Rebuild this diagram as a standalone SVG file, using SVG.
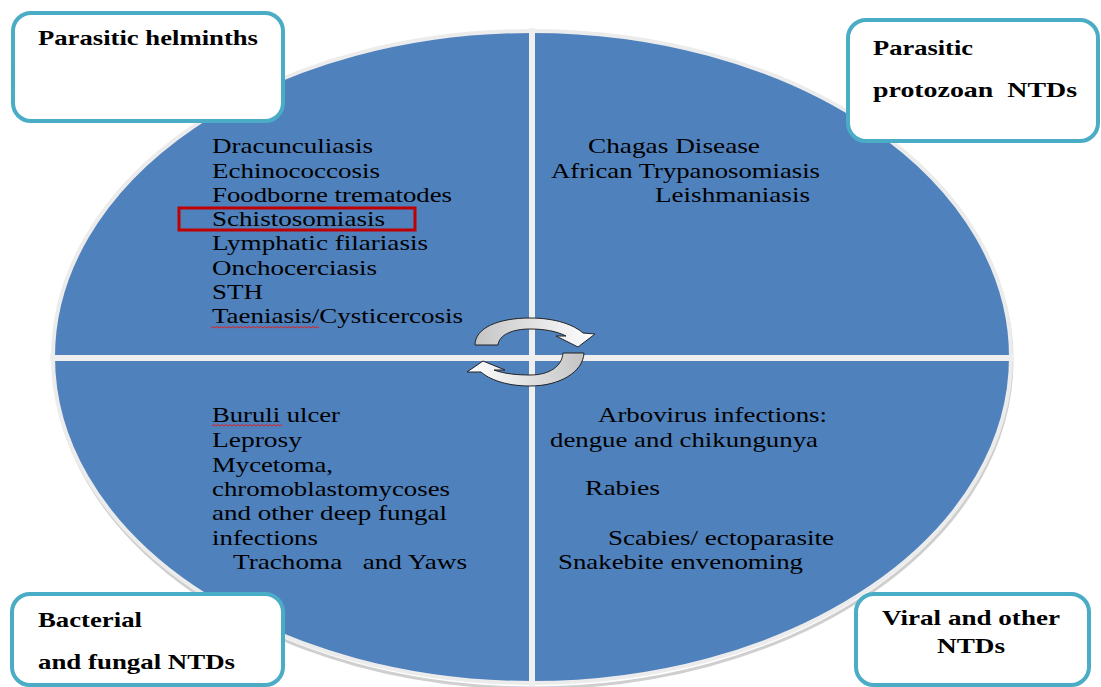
<svg xmlns="http://www.w3.org/2000/svg" width="1101" height="687" viewBox="0 0 1101 687">
<style>
.box{fill:#fff;stroke:#4bacc6;stroke-width:4}
.hd{font-family:"Liberation Serif","Times New Roman",serif;font-weight:bold;font-size:21px;fill:#000}
.tx{font-family:"Liberation Serif","Times New Roman",serif;font-size:21px;fill:#000}
.sq{fill:none;stroke:#e02020;stroke-width:1}
.arr{stroke:#222;stroke-width:1}
</style>
<defs>
<linearGradient id="g1" x1="0" y1="0" x2="1" y2="0">
<stop offset="0" stop-color="#c4c4c4"/><stop offset="0.55" stop-color="#e6e6e6"/><stop offset="1" stop-color="#ffffff"/>
</linearGradient>
<linearGradient id="g2" x1="1" y1="0" x2="0" y2="0">
<stop offset="0" stop-color="#c4c4c4"/><stop offset="0.55" stop-color="#e6e6e6"/><stop offset="1" stop-color="#ffffff"/>
</linearGradient>
</defs>
<rect width="1101" height="687" fill="#fff"/>
<g id="circle">
<ellipse cx="532" cy="358" rx="479" ry="328" fill="none" stroke="#cfcfcf" stroke-width="3" transform="translate(1,2)"/>
<ellipse cx="532" cy="357" rx="479" ry="326" fill="#4f81bd" stroke="#ececec" stroke-width="4"/>
<line x1="532" y1="28" x2="532" y2="686" stroke="#efefef" stroke-width="6"/>
<line x1="50" y1="358" x2="1014" y2="358" stroke="#efefef" stroke-width="6"/>
</g>
<g id="q1">
<text class="tx" x="212" y="153" textLength="161" lengthAdjust="spacingAndGlyphs">Dracunculiasis</text>
<text class="tx" x="212" y="177.5" textLength="168" lengthAdjust="spacingAndGlyphs">Echinococcosis</text>
<text class="tx" x="212" y="202" textLength="240" lengthAdjust="spacingAndGlyphs">Foodborne trematodes</text>
<text class="tx" x="212" y="226" textLength="173" lengthAdjust="spacingAndGlyphs">Schistosomiasis</text>
<rect x="179" y="208" width="236" height="22" fill="none" stroke="#c00000" stroke-width="3"/>
<text class="tx" x="212" y="250" textLength="216" lengthAdjust="spacingAndGlyphs">Lymphatic filariasis</text>
<text class="tx" x="212" y="275" textLength="165" lengthAdjust="spacingAndGlyphs">Onchocerciasis</text>
<text class="tx" x="212" y="299" textLength="51" lengthAdjust="spacingAndGlyphs">STH</text>
<text class="tx" x="212" y="323" textLength="251" lengthAdjust="spacingAndGlyphs">Taeniasis/Cysticercosis</text>
<path class="sq" d="M211 328 l2 -1.5 l2 1.5 l2 -1.5 l2 1.5 l2 -1.5 l2 1.5 l2 -1.5 l2 1.5 l2 -1.5 l2 1.5 l2 -1.5 l2 1.5 l2 -1.5 l2 1.5 l2 -1.5 l2 1.5 l2 -1.5 l2 1.5 l2 -1.5 l2 1.5 l2 -1.5 l2 1.5 l2 -1.5 l2 1.5 l2 -1.5 l2 1.5 l2 -1.5 l2 1.5 l2 -1.5 l2 1.5 l2 -1.5 l2 1.5 l2 -1.5 l2 1.5 l2 -1.5 l2 1.5 l2 -1.5 l2 1.5 l2 -1.5 l2 1.5 l2 -1.5 l2 1.5 l2 -1.5 l2 1.5 l2 -1.5 l2 1.5 l2 -1.5 l2 1.5 l2 -1.5 l2 1.5 l2 -1.5 l2 1.5 l2 -1.5 l2 1.5"/>
</g>
<g id="q2">
<text class="tx" x="588" y="153" textLength="172" lengthAdjust="spacingAndGlyphs">Chagas Disease</text>
<text class="tx" x="551" y="177.5" textLength="269" lengthAdjust="spacingAndGlyphs">African Trypanosomiasis</text>
<text class="tx" x="655" y="202" textLength="155" lengthAdjust="spacingAndGlyphs">Leishmaniasis</text>
</g>
<g id="q3">
<text class="tx" x="212" y="422" textLength="128" lengthAdjust="spacingAndGlyphs">Buruli ulcer</text>
<path class="sq" d="M212 426 l2 -1.5 l2 1.5 l2 -1.5 l2 1.5 l2 -1.5 l2 1.5 l2 -1.5 l2 1.5 l2 -1.5 l2 1.5 l2 -1.5 l2 1.5 l2 -1.5 l2 1.5 l2 -1.5 l2 1.5 l2 -1.5 l2 1.5 l2 -1.5 l2 1.5 l2 -1.5 l2 1.5 l2 -1.5 l2 1.5 l2 -1.5 l2 1.5 l2 -1.5 l2 1.5 l2 -1.5 l2 1.5 l2 -1.5 l2 1.5 l2 -1.5 l2 1.5 l2 -1.5"/>
<text class="tx" x="212" y="447" textLength="90" lengthAdjust="spacingAndGlyphs">Leprosy</text>
<text class="tx" x="212" y="472" textLength="121" lengthAdjust="spacingAndGlyphs">Mycetoma,</text>
<text class="tx" x="212" y="496" textLength="238" lengthAdjust="spacingAndGlyphs">chromoblastomycoses</text>
<text class="tx" x="212" y="520" textLength="235" lengthAdjust="spacingAndGlyphs">and other deep fungal</text>
<text class="tx" x="212" y="545" textLength="106" lengthAdjust="spacingAndGlyphs">infections</text>
<text class="tx" x="233" y="569" textLength="234" lengthAdjust="spacingAndGlyphs" xml:space="preserve">Trachoma   and Yaws</text>
</g>
<g id="q4">
<text class="tx" x="598" y="422" textLength="229" lengthAdjust="spacingAndGlyphs">Arbovirus infections:</text>
<text class="tx" x="550" y="447" textLength="268" lengthAdjust="spacingAndGlyphs">dengue and chikungunya</text>
<text class="tx" x="585" y="495" textLength="75" lengthAdjust="spacingAndGlyphs">Rabies</text>
<text class="tx" x="608" y="545" textLength="226" lengthAdjust="spacingAndGlyphs">Scabies/ ectoparasite</text>
<text class="tx" x="558" y="569" textLength="245" lengthAdjust="spacingAndGlyphs">Snakebite envenoming</text>
</g>
<g id="cycle-arrows">
<path class="arr" fill="url(#g1)" d="M475 345 C475 328 498 318 530 318 C556 318 574 325 583 333 L595 334 L578 347 L556 336 L566 336 C556 331 544 329 530 329 C512 329 499 335 498 345 Z"/>
<path class="arr" fill="url(#g2)" d="M584 353 C583 372 560 386 530 386 C505 386 489 379 481 372 L467 372 L483 361 L505 370 L494 370 C505 374 518 375 530 375 C550 375 562 366 563 353 Z"/>
</g>
<g id="box-helminths">
<rect class="box" x="13" y="13" width="270" height="108" rx="18"/>
<text class="hd" x="38" y="45" textLength="220" lengthAdjust="spacingAndGlyphs">Parasitic helminths</text>
</g>
<g id="box-protozoan">
<rect class="box" x="848" y="20" width="250" height="121" rx="18"/>
<text class="hd" x="873" y="55" textLength="100" lengthAdjust="spacingAndGlyphs">Parasitic</text>
<text class="hd" x="873" y="97" textLength="204" lengthAdjust="spacingAndGlyphs" xml:space="preserve">protozoan  NTDs</text>
</g>
<g id="box-bacterial">
<rect class="box" x="12" y="594" width="271" height="91" rx="18"/>
<text class="hd" x="38" y="627" textLength="104" lengthAdjust="spacingAndGlyphs">Bacterial</text>
<text class="hd" x="38" y="669" textLength="197" lengthAdjust="spacingAndGlyphs">and fungal NTDs</text>
</g>
<g id="box-viral">
<rect class="box" x="856" y="594" width="233" height="91" rx="18"/>
<text class="hd" x="882" y="625" textLength="178" lengthAdjust="spacingAndGlyphs">Viral and other</text>
<text class="hd" x="937" y="653" textLength="68" lengthAdjust="spacingAndGlyphs">NTDs</text>
</g>
</svg>
